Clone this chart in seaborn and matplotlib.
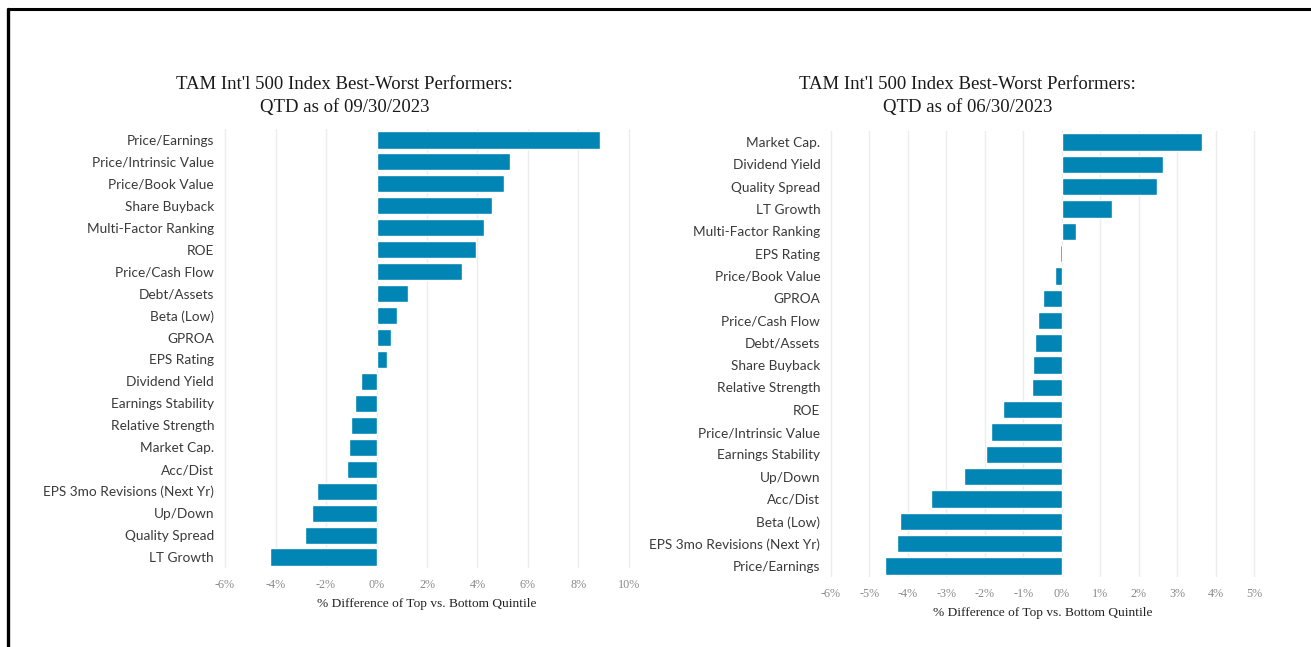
###
# Best-worst factor performers, two quarters side by side
###

import pandas as pd
import matplotlib.pyplot as plt
import seaborn as sns
from matplotlib.lines import Line2D

# Q3 2023 (as of 09/30/2023)
q3_factors = ['Price/Earnings', 'Price/Intrinsic Value', 'Price/Book Value', 'Share Buyback',
              'Multi-Factor Ranking', 'ROE', 'Price/Cash Flow', 'Debt/Assets', 'Beta (Low)',
              'GPROA', 'EPS Rating', 'Dividend Yield', 'Earnings Stability', 'Relative Strength',
              'Market Cap.', 'Acc/Dist', 'EPS 3mo Revisions (Next Yr)', 'Up/Down',
              'Quality Spread', 'LT Growth']
q3_values = [8.85, 5.28, 5.06, 4.57, 4.27, 3.96, 3.39, 1.24, 0.81, 0.57,
             0.41, -0.62, -0.85, -1.01, -1.10, -1.15, -2.37, -2.57, -2.83, -4.22]
q3_ticks = [-6, -4, -2, 0, 2, 4, 6, 8, 10]

# Q2 2023 (as of 06/30/2023)
q2_factors = ['Market Cap.', 'Dividend Yield', 'Quality Spread', 'LT Growth',
              'Multi-Factor Ranking', 'EPS Rating', 'Price/Book Value', 'GPROA',
              'Price/Cash Flow', 'Debt/Assets', 'Share Buyback', 'Relative Strength', 'ROE',
              'Price/Intrinsic Value', 'Earnings Stability', 'Up/Down', 'Acc/Dist',
              'Beta (Low)', 'EPS 3mo Revisions (Next Yr)', 'Price/Earnings']
q2_values = [3.65, 2.63, 2.48, 1.30, 0.37, -0.04, -0.18, -0.48, -0.62, -0.69,
             -0.74, -0.77, -1.54, -1.84, -1.96, -2.54, -3.41, -4.21, -4.29, -4.60]
q2_ticks = [-6, -5, -4, -3, -2, -1, 0, 1, 2, 3, 4, 5]

bar_color = '#0085b5'
serif = ['Liberation Serif', 'DejaVu Serif']
narrow = ['Liberation Sans Narrow', 'Lato', 'DejaVu Sans']

sns.set_style('white')

fig = plt.figure(figsize=(13.11, 6.47), dpi=100)

panels = [
    (q3_factors, q3_values, q3_ticks, [0.1678, 0.1221, 0.3158, 0.6785], 4.3,
     "TAM Int'l 500 Index Best-Worst Performers:\nQTD as of 09/30/2023", 0.263),
    (q2_factors, q2_values, q2_ticks, [0.6280, 0.1082, 0.3344, 0.6893], 2.2,
     "TAM Int'l 500 Index Best-Worst Performers:\nQTD as of 06/30/2023", 0.738),
]

for factors, values, ticks, pos, ypad, title, tx in panels:
    df = pd.DataFrame({'factor': factors, 'diff': values})
    ax = fig.add_axes(pos)
    sns.barplot(data=df, x='diff', y='factor', color=bar_color, saturation=1,
                width=0.78, ax=ax, zorder=3)
    ax.set_xlim(ticks[0] - 0.2, ticks[-1] + 0.2)
    ax.set_ylim(len(factors) - 0.5, -0.5)
    ax.set_xticks(ticks)
    ax.set_xticklabels([f'{t}%' for t in ticks], fontfamily=serif, fontsize=8.7, color='#8a8a8a')
    ax.set_yticks(range(len(factors)))
    ax.set_yticklabels(factors, fontfamily=narrow, fontsize=9.8, color='#3a3a3a')
    ax.tick_params(axis='x', length=0, pad=8)
    ax.tick_params(axis='y', length=0, pad=ypad)
    ax.grid(axis='x', color='#ececec', linewidth=1, zorder=0)
    ax.grid(axis='y', visible=False)
    for s in ax.spines.values():
        s.set_visible(False)
    ax.set_ylabel('')
    ax.set_xlabel('% Difference of Top vs. Bottom Quintile', fontfamily=serif,
                  fontsize=9.6, color='#222222', labelpad=5)
    fig.text(tx, 0.852, title, ha='center', va='center', fontfamily=serif,
             fontsize=13.5, color='#1a1a1a', linespacing=1.5)

# frame lines along top and left edge
fig.add_artist(Line2D([7.5 / 1311, 1], [1 - 9 / 647, 1 - 9 / 647], color='black', linewidth=2.2,
                      transform=fig.transFigure))
fig.add_artist(Line2D([7.5 / 1311, 7.5 / 1311], [0, 1 - 9 / 647], color='black', linewidth=2.4,
                      transform=fig.transFigure))

plt.savefig('out.png', dpi=100)
plt.close()
